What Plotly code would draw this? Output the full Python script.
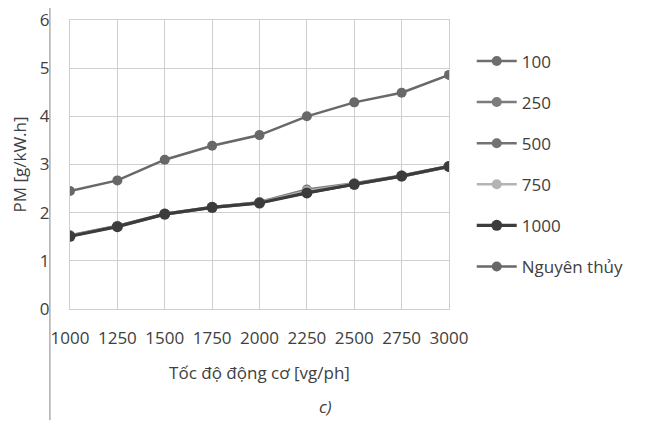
import plotly.graph_objects as go

speeds = [1000, 1250, 1500, 1750, 2000, 2250, 2500, 2750, 3000]
pm_100 = [1.52, 1.72, 1.97, 2.11, 2.21, 2.41, 2.59, 2.76, 2.96]
pm_250 = [1.53, 1.73, 1.98, 2.12, 2.22, 2.48, 2.61, 2.77, 2.97]
pm_500 = [1.51, 1.71, 1.96, 2.10, 2.20, 2.42, 2.58, 2.75, 2.95]
pm_750 = [1.52, 1.72, 1.97, 2.12, 2.21, 2.45, 2.60, 2.76, 2.96]
pm_1000 = [1.51, 1.71, 1.97, 2.11, 2.20, 2.41, 2.59, 2.76, 2.96]
pm_orig = [2.45, 2.67, 3.10, 3.39, 3.61, 4.00, 4.29, 4.49, 4.86]

series_names = ["100", "250", "500", "750", "1000", "Nguyên thủy"]
series_values = [pm_100, pm_250, pm_500, pm_750, pm_1000, pm_orig]
colors = ["#6e6e6e", "#7c7c7c", "#727272", "#b4b4b4", "#3c3c3c", "#686868"]
widths = [2.5, 2.5, 2.5, 2.5, 3.2, 2.5]
msizes = [10, 10, 10, 10, 11, 10]

y_ticks = [0, 1, 2, 3, 4, 5, 6]

FONT = "Open Sans"
TXT = "#404040"
FS = 17

PLOT_H = 414 - 12 - 113

fig = go.Figure()
for i, (name, vals) in enumerate(zip(series_names, series_values)):
    fig.add_trace(go.Scatter(
        x=speeds, y=vals, name=name, mode="lines+markers",
        line=dict(color=colors[i], width=widths[i]),
        marker=dict(color=colors[i], size=msizes[i]),
        legendgroup=name,
    ))

fig.update_layout(
    width=637, height=414,
    margin=dict(l=62, r=196, t=12, b=113),
    paper_bgcolor="white", plot_bgcolor="white",
    font=dict(family=FONT, size=FS, color=TXT),
    showlegend=True,
    legend=dict(x=1.06, xanchor="left", y=0.502, yanchor="middle",
                font=dict(family=FONT, size=FS, color=TXT),
                tracegroupgap=16, itemwidth=40, bgcolor="rgba(0,0,0,0)"),
    xaxis=dict(range=[1000, 3000], tickvals=speeds, ticktext=[str(s) for s in speeds],
               automargin=False, ticklabeloverflow="allow",
               showgrid=True, gridcolor="#cfcfcf", gridwidth=1,
               showline=True, linecolor="#cfcfcf", mirror=True,
               zeroline=False, ticks="", ticklabelstandoff=14,
               tickfont=dict(family=FONT, size=FS, color=TXT),
               title=dict(text="Tốc độ động cơ [vg/ph]", standoff=18,
                          font=dict(family=FONT, size=FS, color=TXT))),
    yaxis=dict(range=[0, 6], tickvals=y_ticks,
               automargin=False, ticklabeloverflow="allow",
               showgrid=True, gridcolor="#cfcfcf", gridwidth=1,
               showline=True, linecolor="#cfcfcf", mirror=True,
               zeroline=False, ticks="", ticklabelstandoff=16,
               tickfont=dict(family=FONT, size=FS, color=TXT),
               title=dict(text="PM [g/kW.h]", standoff=12,
                          font=dict(family=FONT, size=FS, color=TXT))),
    shapes=[dict(type="line", xref="paper", yref="paper", x0=-0.053, x1=-0.053,
                 y0=-0.385, y1=1.1, line=dict(color="#9a9a9a", width=1.2))],
    annotations=[dict(text="<i>c)</i>", xref="paper", yref="paper",
                      x=(325 - 70) / 379, y=-(398 - 301) / PLOT_H,
                      xanchor="center", yanchor="middle", showarrow=False,
                      font=dict(family=FONT, size=FS, color=TXT))],
)

fig.write_html("out.html")
